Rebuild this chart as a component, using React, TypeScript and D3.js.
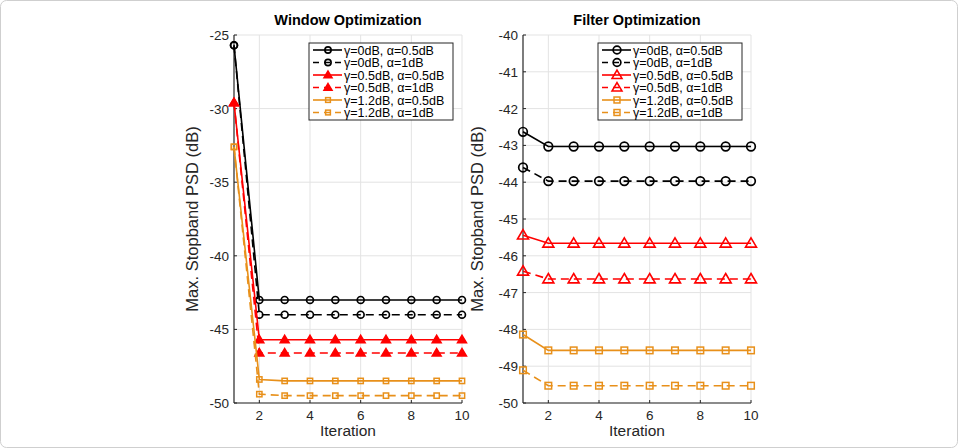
import React from "react";
import { scaleLinear, line } from "d3";

// iterations on the x axis
const iterations = [1, 2, 3, 4, 5, 6, 7, 8, 9, 10];
const xTicks = [2, 4, 6, 8, 10];

const labels = [
  "γ=0dB, α=0.5dB",
  "γ=0dB, α=1dB",
  "γ=0.5dB, α=0.5dB",
  "γ=0.5dB, α=1dB",
  "γ=1.2dB, α=0.5dB",
  "γ=1.2dB, α=1dB",
];

// Window optimization
const winG0A05 = [-25.7, -43.0, -43.0, -43.0, -43.0, -43.0, -43.0, -43.0, -43.0, -43.0];
const winG0A1 = [-25.7, -44.0, -44.0, -44.0, -44.0, -44.0, -44.0, -44.0, -44.0, -44.0];
const winG05A05 = [-29.6, -45.7, -45.7, -45.7, -45.7, -45.7, -45.7, -45.7, -45.7, -45.7];
const winG05A1 = [-29.6, -46.6, -46.6, -46.6, -46.6, -46.6, -46.6, -46.6, -46.6, -46.6];
const winG12A05 = [-32.6, -48.4, -48.5, -48.5, -48.5, -48.5, -48.5, -48.5, -48.5, -48.5];
const winG12A1 = [-32.6, -49.4, -49.5, -49.5, -49.5, -49.5, -49.5, -49.5, -49.5, -49.5];
const winTicks = [-50, -45, -40, -35, -30, -25];

// Filter optimization
const filG0A05 = [-42.63, -43.03, -43.03, -43.03, -43.03, -43.03, -43.03, -43.03, -43.03, -43.03];
const filG0A1 = [-43.6, -43.97, -43.97, -43.97, -43.97, -43.97, -43.97, -43.97, -43.97, -43.97];
const filG05A05 = [-45.44, -45.66, -45.66, -45.66, -45.66, -45.66, -45.66, -45.66, -45.66, -45.66];
const filG05A1 = [-46.42, -46.63, -46.63, -46.63, -46.63, -46.63, -46.63, -46.63, -46.63, -46.63];
const filG12A05 = [-48.14, -48.57, -48.57, -48.57, -48.57, -48.57, -48.57, -48.57, -48.57, -48.57];
const filG12A1 = [-49.11, -49.53, -49.53, -49.53, -49.53, -49.53, -49.53, -49.53, -49.53, -49.53];
const filTicks = [-50, -49, -48, -47, -46, -45, -44, -43, -42, -41, -40];

const colors = ["#000000", "#000000", "#ff0000", "#ff0000", "#e8901a", "#e8901a"];
const dashed = [false, true, false, true, false, true];
const markers = ["circle", "circle", "triangle", "triangle", "square", "square"];

const FONT = "'Liberation Sans', Arial, Helvetica, sans-serif";
const AXIS = "#262626";
const GRID = "#e3e3e3";

const Marker = ({ kind, x, y, color, size, solid }) => {
  if (kind === "circle")
    return <circle cx={x} cy={y} r={4.3 * size} fill="none" stroke={color} strokeWidth={1.7} />;
  if (kind === "triangle") {
    const s = 5.5 * size;
    return (
      <path
        d={`M${x},${y - s} L${x + s},${y + s * 0.7} L${x - s},${y + s * 0.7} Z`}
        fill={solid ? color : "none"}
        stroke={color}
        strokeWidth={1.6}
      />
    );
  }
  const h = 3.3 * size;
  return <rect x={x - h} y={y - h} width={2 * h} height={2 * h} fill="none" stroke={color} strokeWidth={1.5} />;
};

const Panel = ({ left, title, series, domain, yTicks, legendX, size, labelOffset }) => {
  const top = 35;
  const bottom = 403;
  const width = 228;
  const solid = size < 1;
  const xScale = scaleLinear().domain([1, 10]).range([left, left + width]);
  const yScale = scaleLinear().domain(domain).range([bottom, top]);
  const path = line()
    .x((d, i) => xScale(iterations[i]))
    .y((d) => yScale(d));

  return (
    <g fontFamily={FONT}>
      {/* grid */}
      {xTicks.map((t) => (
        <line key={"gx" + t} x1={xScale(t)} x2={xScale(t)} y1={top} y2={bottom} stroke={GRID} />
      ))}
      {yTicks.map((t) => (
        <line key={"gy" + t} x1={left} x2={left + width} y1={yScale(t)} y2={yScale(t)} stroke={GRID} />
      ))}
      {/* axes */}
      <line x1={left} x2={left} y1={top} y2={bottom} stroke={AXIS} strokeWidth={1.2} />
      <line x1={left} x2={left + width} y1={bottom} y2={bottom} stroke={AXIS} strokeWidth={1.2} />
      {xTicks.map((t) => (
        <g key={"tx" + t}>
          <line x1={xScale(t)} x2={xScale(t)} y1={bottom} y2={bottom - 3} stroke={AXIS} />
          <text x={xScale(t)} y={bottom + 17} textAnchor="middle" fontSize={13.5} fill={AXIS}>
            {t}
          </text>
        </g>
      ))}
      {yTicks.map((t) => (
        <g key={"ty" + t}>
          <line x1={left} x2={left + 3} y1={yScale(t)} y2={yScale(t)} stroke={AXIS} />
          <text x={left - 5} y={yScale(t) + 5} textAnchor="end" fontSize={13.5} fill={AXIS}>
            {t}
          </text>
        </g>
      ))}
      <text x={left + width / 2} y={25} textAnchor="middle" fontSize={14.5} fontWeight="bold" fill="#000">
        {title}
      </text>
      <text x={left + width / 2} y={436} textAnchor="middle" fontSize={15.5} fill={AXIS}>
        Iteration
      </text>
      <text
        transform={`translate(${left - labelOffset},${(top + bottom) / 2}) rotate(-90)`}
        textAnchor="middle"
        fontSize={16.5}
        fill={AXIS}
      >
        Max. Stopband PSD (dB)
      </text>
      {/* series */}
      {series.map((s, k) => (
        <g key={"s" + k}>
          <path
            d={path(s)}
            fill="none"
            stroke={colors[k]}
            strokeWidth={1.6}
            strokeDasharray={dashed[k] ? "8,5" : undefined}
          />
          {s.map((v, i) => (
            <Marker
              key={i}
              kind={markers[k]}
              x={xScale(iterations[i])}
              y={yScale(v)}
              color={colors[k]}
              size={size}
              solid={solid}
            />
          ))}
        </g>
      ))}
      {/* legend */}
      <rect x={legendX} y={43} width={144} height={77} fill="#fff" stroke={AXIS} strokeWidth={1} />
      {labels.map((lab, k) => {
        const y = 50 + k * 12.5;
        return (
          <g key={"l" + k}>
            <line
              x1={legendX + 4}
              x2={legendX + 33}
              y1={y}
              y2={y}
              stroke={colors[k]}
              strokeWidth={1.6}
              strokeDasharray={dashed[k] ? "6,5" : undefined}
            />
            <Marker
              kind={markers[k]}
              x={legendX + 19}
              y={y}
              color={colors[k]}
              size={size * 0.9}
              solid={solid}
            />
            <text x={legendX + 35} y={y + 4.5} fontSize={12.5} fill="#000">
              {lab}
            </text>
          </g>
        );
      })}
    </g>
  );
};

export default function App() {
  return (
    <svg
      width={958}
      height={448}
      style={{ position: "absolute", left: 0, top: 0, background: "#fff" }}
    >
      <rect x={0.5} y={0.5} width={957} height={447} rx={6} fill="#fff" stroke="#cfcfcf" />
      <Panel
        left={234}
        title="Window Optimization"
        series={[winG0A05, winG0A1, winG05A05, winG05A1, winG12A05, winG12A1]}
        domain={[-50, -25]}
        yTicks={winTicks}
        legendX={309}
        size={0.8}
        labelOffset={36}
      />
      <Panel
        left={523}
        title="Filter Optimization"
        series={[filG0A05, filG0A1, filG05A05, filG05A1, filG12A05, filG12A1]}
        domain={[-50, -40]}
        yTicks={filTicks}
        legendX={598}
        size={1}
        labelOffset={40}
      />
    </svg>
  );
}
